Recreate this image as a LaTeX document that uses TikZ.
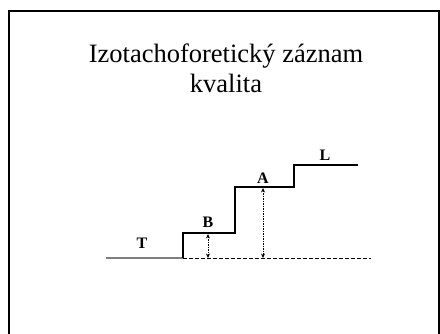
\documentclass[tikz,border=0pt]{standalone}
\usepackage{fontspec}
\setmainfont{Liberation Serif}
\usetikzlibrary{arrows.meta, calc, positioning}
\definecolor{zakl}{HTML}{7F7F7F}
\tikzset{
  % nadpis snimku
  titulek/.style={font=\fontsize{26.5}{30}\selectfont, anchor=base, inner sep=0pt},
  % popisky zon
  zona/.style={font=\fontsize{16}{16}\selectfont\bfseries, anchor=base, inner sep=0pt},
  % schody zaznamu
  zaznam/.style={line width=1.3pt, line join=miter},
  vodic/.style={line width=2pt, zakl},
  zaklad/.style={line width=1pt, dash pattern=on 3.5pt off 2.5pt},
  % vyska zony
  vyska/.style={{Stealth[length=4.5pt,width=4pt]}-{Stealth[length=4.5pt,width=4pt]},
    line width=0.8pt, dash pattern=on 1.5pt off 1pt},
}
\begin{document}
\begin{tikzpicture}[x=1pt,y=-1pt]
  \useasboundingbox (0,0) rectangle (440,333);
  \clip (0,0) rectangle (440,333);
  % ramecek
  \draw[line width=2.2pt] (9,350) -- (9,11) -- (439,11) -- (439,350);
  \node[titulek] (nadpis) at (226,62) {Izotachoforetický záznam};
  \node[titulek] (kvalita) at (226,92) {kvalita};
  % body zaznamu
  \coordinate (t0) at (106,258);
  \coordinate (s0) at (183,258);
  \coordinate (s1) at (183,233);
  \coordinate (s2) at (235,233);
  \coordinate (s3) at (235,187);
  \coordinate (s4) at (294,187);
  \coordinate (s5) at (294,165);
  \coordinate (s6) at (358,165);
  \coordinate (konec) at (371,258);
  \draw[vodic] (t0) -- (s0);
  \draw[zaznam] (s0) -- (s1) -- (s2) -- (s3) -- (s4) -- (s5) -- (s6);
  \draw[zaklad] (s0) -- (konec);
  % vysky zon B a A
  \coordinate (bh) at (208,234);
  \coordinate (ah) at (263,188);
  \draw[vyska] (bh) -- (bh |- s0);
  \draw[vyska] (ah) -- (ah |- s0);
  % popisky
  \node[zona] (T) at (142,248) {T};
  \node[zona] (B) at (208,227) {B};
  \node[zona] (A) at (263,183) {A};
  \node[zona] (L) at (325,160) {L};
\end{tikzpicture}
\end{document}
